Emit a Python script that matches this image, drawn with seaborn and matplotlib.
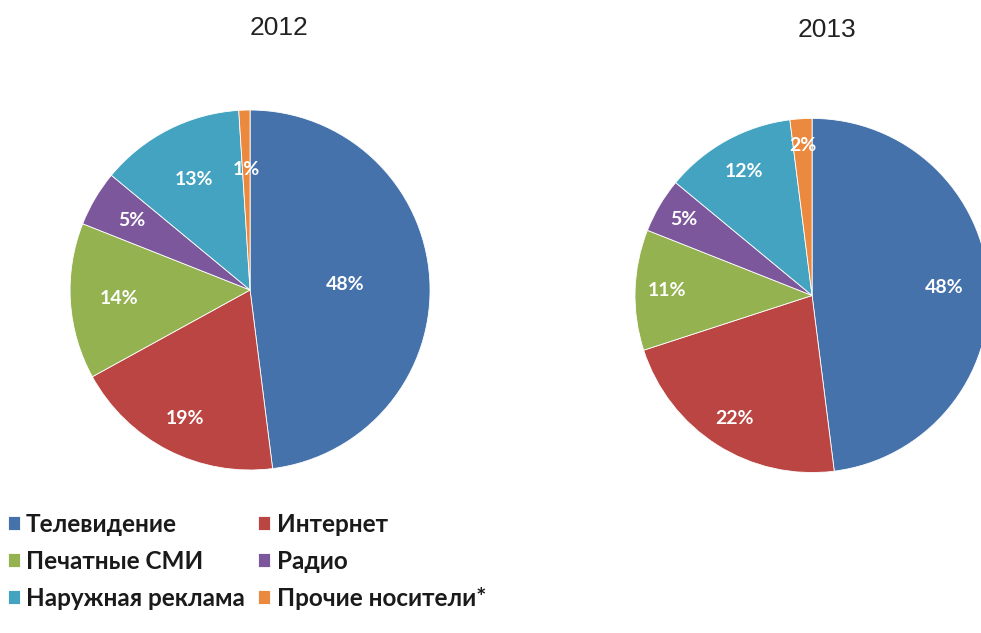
import matplotlib
matplotlib.use("Agg")
import matplotlib.pyplot as plt
import seaborn as sns
import numpy as np

sns.set_theme(style="white")
plt.rcParams['font.family'] = ['Lato', 'DejaVu Sans']

categories = ["Телевидение", "Интернет", "Печатные СМИ", "Радио", "Наружная реклама", "Прочие носители*"]
years = ["2012", "2013"]
share_2012 = [48, 19, 14, 5, 13, 1]
share_2013 = [48, 22, 11, 5, 12, 2]
colors = ["#4572AB", "#BA4542", "#94B24F", "#7C579C", "#43A3C0", "#EB8A3E"]

# label distance from centre (fraction of radius), like excel "best fit"
label_r_2012 = [0.53, 0.80, 0.73, 0.76, 0.69, 0.67]
label_r_2013 = [0.75, 0.82, 0.82, 0.84, 0.80, 0.85]

fig = plt.figure(figsize=(9.81, 6.33), dpi=100)
ax1 = fig.add_axes([0.0714, 0.2575, 0.367, 0.5687])
ax2 = fig.add_axes([0.6473, 0.2528, 0.361, 0.5608])

def draw_pie(ax, vals, label_r):
    wedges, texts, autotexts = ax.pie(
        vals, colors=colors, startangle=90, counterclock=False,
        autopct="%d%%", pctdistance=0.7,
        wedgeprops=dict(edgecolor="white", linewidth=0.6),
        textprops=dict(color="white", fontsize=14, fontweight="bold"))
    for w, t, r in zip(wedges, autotexts, label_r):
        ang = np.deg2rad((w.theta1 + w.theta2) / 2)
        t.set_position((r * np.cos(ang), r * np.sin(ang)))
    ax.set_xlim(-1.0, 1.0)
    ax.set_ylim(-1.0, 1.0)
    ax.set_aspect("equal")
    return wedges

w1 = draw_pie(ax1, share_2012, label_r_2012)
w2 = draw_pie(ax2, share_2013, label_r_2013)

fig.text(0.284, 0.955, years[0], ha="center", va="center", fontsize=19,
         family="Liberation Sans", color="#222222")
fig.text(0.843, 0.953, years[1], ha="center", va="center", fontsize=19,
         family="Liberation Sans", color="#222222")

order = [0, 2, 4, 1, 3, 5]
leg = fig.legend([w1[i] for i in order], [categories[i] for i in order],
                 loc="upper left", bbox_to_anchor=(0.008, 0.19), ncol=2,
                 frameon=False, fontsize=17.5, handlelength=0.5, handleheight=0.5,
                 handletextpad=0.25, labelspacing=0.58, columnspacing=0.55,
                 borderaxespad=0.0, borderpad=0.0)
for t in leg.get_texts():
    t.set_fontweight("bold")
    t.set_color("#1a1a1a")

fig.savefig("out.png", dpi=100)
